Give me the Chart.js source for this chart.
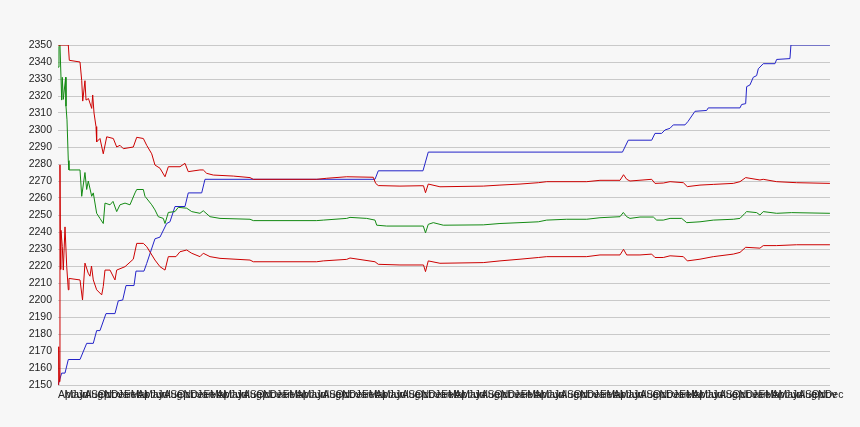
<!DOCTYPE html>
<html>
<head>
<meta charset="utf-8">
<script src="https://cdn.jsdelivr.net/npm/chart.js@4.4.1/dist/chart.umd.min.js"></script>
<style>
  html, body { margin: 0; padding: 0; background: #f7f7f7; }
  canvas { display: block; }
</style>
</head>
<body>
<canvas id="bandChart" width="860" height="427"></canvas>
<script>
// x values are months counted from the first April on the axis
const monthNames = ['Apr', 'May', 'Jun', 'Jul', 'Aug', 'Sep', 'Oct', 'Nov', 'Dec', 'Jan', 'Feb', 'Mar'];

const stepX = [0, 0.56, 1.06, 1.56, 3.33, 4.34, 5.34, 5.85, 6.35, 7.26, 8.62, 9.12, 9.79, 10.29, 11.5, 11.8,
	13.01, 13.42, 14.67, 15.43, 16.44, 16.94, 17.7, 19.21, 19.71, 21.74, 22.24, 47.96, 48.46, 55.22, 56.02,
	85.4, 86.28, 89.82, 90.32, 91.33, 91.83, 92.59, 93.09, 94.86, 95.31, 96.37, 98.14, 98.38, 103.18, 103.43,
	104.04, 104.19, 104.69, 105.19, 105.7, 105.95, 106.7, 108.47, 108.73, 110.74, 110.89, 116.79];
const stepY = [2150, 2157, 2157, 2165, 2165, 2174.5, 2174.5, 2182, 2182, 2192, 2192, 2199.5, 2200, 2208.5, 2208.5, 2217,
	2217, 2221.5, 2236, 2237, 2245, 2246, 2255, 2255, 2263, 2263, 2271, 2271, 2276, 2276, 2287,
	2287, 2294, 2294, 2298, 2298, 2300, 2301, 2303, 2303, 2305, 2311, 2311.5, 2313, 2313, 2315,
	2315.5, 2325.5, 2326.5, 2331, 2332, 2336, 2339, 2339, 2341.5, 2342, 2350, 2350];

const midX = [0, 0.15, 0.3, 0.56, 0.65, 0.8, 1.16, 1.21, 1.36, 1.56, 1.66, 3.33, 3.59, 4.08, 4.34, 4.58, 5.1, 5.34,
	5.85, 6.35, 6.85, 7.11, 7.87, 8.32, 8.88, 9.38, 10.14, 10.89, 11.65, 11.91, 12.91, 13.16, 14.18, 14.67,
	15.17, 15.93, 16.19, 16.69, 17.7, 18.2, 19.47, 20.23, 21.48, 21.98, 23, 24.51, 29.05, 29.55, 39.14, 40.14,
	43.68, 44.18, 46.7, 47.96, 48.22, 49.73, 54.77, 55.27, 55.6, 56.02, 56.78, 58.29, 64.34, 66.87, 69.9,
	72.67, 73.94, 76.96, 79.99, 82, 85.03, 85.53, 86.04, 86.54, 88.05, 90.07, 90.58, 91.58, 92.6, 94.36,
	95.12, 97.13, 99.14, 102.17, 103.18, 103.93, 104.19, 105.7, 106.2, 106.7, 108.73, 111, 116.79];
const midY = [2337, 2349, 2350, 2317.6, 2331, 2318, 2331, 2314, 2306, 2282, 2276.5, 2276.5, 2261, 2275, 2265, 2270, 2261, 2263,
	2251, 2248, 2245, 2257, 2256, 2258, 2252, 2256, 2257, 2256, 2263, 2265, 2265, 2261, 2256, 2253,
	2249, 2248, 2245, 2251.5, 2252, 2254.5, 2254, 2252, 2251, 2252.5, 2249, 2248, 2247.5, 2246.7, 2246.7, 2247,
	2248, 2248.6, 2248, 2247, 2244, 2243.5, 2243.5, 2243.5, 2239.5, 2244.5, 2245.5, 2244, 2244.2, 2245, 2245.5,
	2246, 2247, 2247.5, 2247.5, 2248.4, 2249, 2251.5, 2249, 2248, 2248.8, 2248.8, 2247, 2247, 2248, 2248,
	2245.5, 2246, 2247, 2247.5, 2248, 2251, 2252, 2251.4, 2250, 2252, 2251, 2251.4, 2251];

const upperX = [0, 1.56, 1.71, 3.33, 3.59, 3.74, 4.08, 4.24, 4.61, 5.1, 5.25, 5.45, 5.75, 5.85, 6.35, 6.85, 7.37,
	8.37, 8.88, 9.38, 9.88, 11.39, 11.91, 12.91, 13.42, 14.18, 14.67, 15.43, 16.19, 16.69, 18.46, 19.21, 19.71,
	21.48, 21.98, 22.5, 23.5, 26.52, 29.05, 29.55, 39.14, 40.65, 43.68, 47.7, 48.06, 48.46, 51.74, 54.77, 55.3,
	55.6, 56.02, 57.79, 64.34, 66.87, 69.9, 72.67, 73.94, 79.99, 82, 85.03, 85.56, 86.04, 86.54, 89.82, 90.32,
	91.58, 92.6, 94.61, 95.21, 97.13, 99.14, 102.17, 103.18, 104.04, 106.2, 106.7, 108.73, 111.75, 116.79];
const upperY = [2350, 2350, 2341, 2340, 2329, 2317, 2329, 2317.6, 2318.5, 2312.7, 2320.6, 2310, 2302, 2293, 2295, 2286, 2296,
	2295, 2290, 2291, 2289, 2290, 2295.7, 2295, 2291, 2286, 2279.4, 2277.5, 2272.5, 2278.4, 2278.4, 2280.4, 2275.5,
	2276.5, 2276.5, 2274.5, 2273.5, 2272.9, 2272, 2271, 2271, 2271.6, 2272.5, 2272.2, 2268.6, 2267.3, 2267, 2267.2, 2267.2,
	2263.1, 2268.2, 2266.6, 2267, 2267.6, 2268.2, 2269, 2269.6, 2269.6, 2270.4, 2270.4, 2273.7, 2271, 2270, 2271, 2268.6,
	2268.8, 2269.6, 2269, 2266.7, 2267.6, 2268, 2268.6, 2269.6, 2272, 2270.6, 2271, 2269.6, 2269, 2268.6];

const lowerX = [0, 0.11, 0.2, 0.3, 0.38, 0.45, 0.65, 0.8, 1.06, 1.32, 1.56, 1.66, 3.33, 3.71, 4.08, 4.58, 4.84, 5.07,
	5.34, 5.85, 6.61, 6.85, 7.11, 7.87, 8.62, 8.88, 10.14, 11.39, 11.91, 12.91, 13.42, 14.67, 15.43, 16.19,
	16.69, 17.85, 18.46, 19.47, 20.23, 21.48, 21.98, 23, 24.51, 29.05, 29.55, 39.14, 40.14, 43.68, 44.18, 47.96,
	48.46, 51.74, 54.77, 55.3, 55.6, 56.02, 57.79, 64.34, 66.87, 69.9, 72.67, 73.94, 79.99, 82, 85.03, 85.56,
	86.04, 88.05, 89.82, 90.32, 91.58, 92.6, 94.61, 95.21, 97.13, 99.14, 102.17, 103.18, 104.04, 106.2, 106.7,
	108.73, 111.75, 116.79];
const lowerY = [2150, 2172.5, 2152, 2279.5, 2218, 2241, 2231.4, 2217.6, 2243, 2219.6, 2206, 2212.7, 2211.8, 2200, 2221.7, 2215.7, 2214, 2220,
	2211.8, 2206, 2203, 2208, 2217.6, 2217.6, 2211.8, 2217.6, 2219.6, 2224, 2233.3, 2233.3, 2231.4, 2223.5, 2219.6, 2217.6,
	2225.5, 2225.5, 2228.4, 2229.4, 2227.5, 2225.5, 2227.5, 2225.5, 2224.5, 2223.5, 2222.5, 2222.5, 2223, 2223.9, 2224.7, 2222.5,
	2221, 2220.6, 2220.6, 2220.6, 2216.7, 2223, 2221.6, 2222, 2223, 2224, 2225, 2225.5, 2225.5, 2226.5, 2226.5, 2229.8,
	2226.5, 2226.5, 2227, 2225, 2225, 2226, 2225.5, 2223, 2224, 2225.5, 2227, 2228, 2231, 2230.5, 2232,
	2232, 2232.5, 2232.5];

const yTicks = { min: 2150, max: 2350, step: 10 };
const xMax = 116.8;

function toPoints( xs, ys ) {
	return xs.map( ( x, i ) => ( { x: x, y: ys[ i ] } ) );
}

function lineSet( label, xs, ys, color ) {
	return {
		label: label,
		data: toPoints( xs, ys ),
		borderColor: color,
		borderWidth: 1,
		pointRadius: 0,
		tension: 0,
		fill: false,
	};
}

const tickFont = { family: '"Liberation Sans", Arial, sans-serif', size: 10.5 };

new Chart( document.getElementById( 'bandChart' ), {
	type: 'line',
	data: {
		datasets: [
			lineSet( 'Upper', upperX, upperY, '#cc0000' ),
			lineSet( 'Middle', midX, midY, '#138a13' ),
			lineSet( 'Lower', lowerX, lowerY, '#cc0000' ),
			lineSet( 'Level', stepX, stepY, '#2323c8' ),
		],
	},
	options: {
		responsive: false,
		animation: false,
		layout: { padding: { left: 0, top: 45, right: 30, bottom: 0 } },
		plugins: {
			legend: { display: false },
			tooltip: { enabled: false },
		},
		scales: {
			x: {
				type: 'linear',
				min: 0,
				max: xMax,
				grid: { display: false, drawTicks: false },
				border: { display: false },
				afterFit: ( scale ) => { scale.height = 42; },
				ticks: {
					stepSize: 1,
					includeBounds: false,
					autoSkip: false,
					maxRotation: 0,
					minRotation: 0,
					align: 'start',
					padding: 4,
					color: '#222',
					font: tickFont,
					callback: ( value ) => monthNames[ Math.round( value ) % 12 ],
				},
			},
			y: {
				min: yTicks.min,
				max: yTicks.max,
				grid: { color: '#c9c9c9', lineWidth: 1, drawTicks: false },
				border: { display: false },
				afterFit: ( scale ) => { scale.width = 58; },
				ticks: {
					stepSize: yTicks.step,
					padding: 6,
					color: '#222',
					font: tickFont,
					callback: ( value ) => String( value ),
				},
			},
		},
	},
} );
</script>
</body>
</html>
